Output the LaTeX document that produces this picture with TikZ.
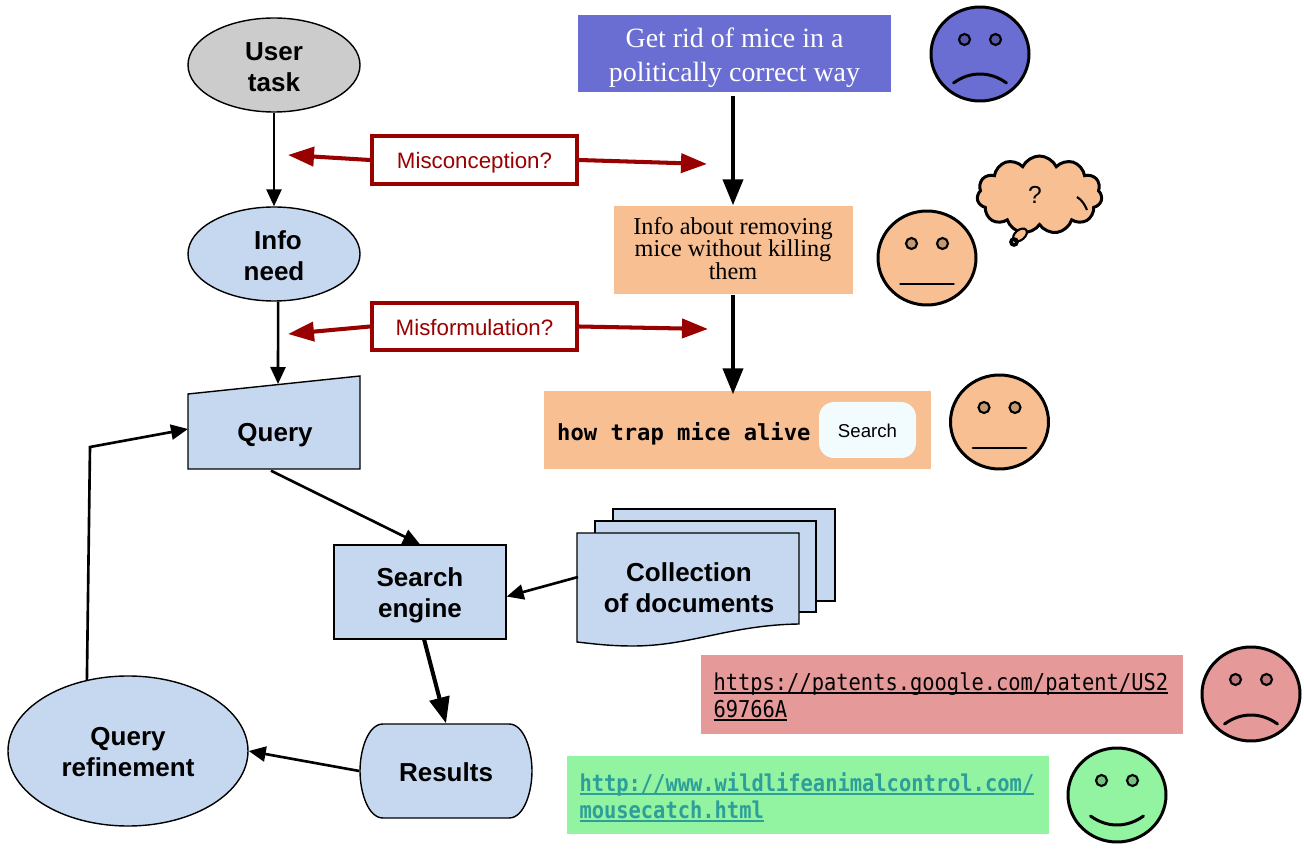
\documentclass[tikz,border=0pt]{standalone}
\usepackage{fontspec}
\setmainfont{Liberation Sans}
\newfontfamily\serifface{Liberation Serif}
\newfontfamily\monoface{DejaVu Sans Mono}
\newfontfamily\urlface[FakeStretch=0.88]{DejaVu Sans Mono}
\usepackage{xcolor}
\usetikzlibrary{arrows.meta, positioning, shapes.geometric, shapes.symbols, calc}
\definecolor{stepblue}{HTML}{C6D8F0}
\definecolor{darkred}{HTML}{990000}
\definecolor{goalblue}{HTML}{6A6DD2}
\definecolor{peach}{HTML}{F7BF92}
\definecolor{badpink}{HTML}{E69999}
\definecolor{goodgreen}{HTML}{92F3A0}
\definecolor{linkteal}{HTML}{2E9E9A}
\newcommand{\droptext}[1]{\rule{0pt}{#1}}
\newcommand{\urlline}[1]{\leavevmode\setbox0\hbox{#1}\rlap{\rule[-1pt]{\wd0}{0.55pt}}\box0}
\newcommand{\smiley}[4]{%
  \begin{scope}[shift={(#1)}]
    \draw[facepen, fill=#2] (0,0) ellipse (0.49 and 0.47);
    \draw[facepen, line width=0.6pt, fill=#2!80!black] (-0.155,0.145) circle (0.055);
    \draw[facepen, line width=0.6pt, fill=#2!80!black] ( 0.155,0.145) circle (0.055);
    \draw[facepen, line cap=round] (-0.265,#3) .. controls (-0.1,#3+#4) and (0.1,#3+#4) .. (0.265,#3);
  \end{scope}}

\begin{document}
\begin{tikzpicture}[
  every node/.style={font=\fontsize{7.4}{8.8}\selectfont\bfseries, align=center, inner sep=0pt},
  outline/.style  = {draw=black, fill=stepblue, line width=0.4pt},
  oval/.style     = {ellipse, outline},
  textbox/.style  = {rectangle, minimum width=17.2mm, minimum height=9.4mm},
  facepen/.style  = {draw=black, line width=0.85pt},
  note/.style     = {rectangle, draw=darkred, fill=white, line width=1.15pt, text=darkred, minimum width=20.5mm, minimum height=4.8mm, font=\fontsize{6.35}{8}\selectfont},
  goalbox/.style  = {rectangle, minimum height=7.7mm, font=\serifface\fontsize{7.94}{9.67}\selectfont},
  urlbox/.style   = {rectangle, minimum width=48.2mm, minimum height=7.85mm, text width=45.7mm, align=left},
  arrow/.style    = {-{Triangle[length=1.7mm, width=1.5mm]}, line width=0.75pt},
  bigarrow/.style = {-{Triangle[length=2.6mm, width=2mm]}, line width=1.15pt},
  redarrow/.style = {-{Triangle[length=2.6mm, width=1.9mm]}, line width=1.15pt, draw=darkred, color=darkred}
]
\useasboundingbox (0,0) rectangle (13.04,-8.49);

%% LEFT COLUMN: the search steps
\node[oval, fill=black!20, minimum width=17.2mm, minimum height=9.4mm] (user) at (2.74,-0.65) {\droptext{2.3mm}User\\task};
\node[oval, minimum width=17.2mm, minimum height=9.4mm] (need) at (2.74,-2.54) {\droptext{2.3mm}\hspace*{0.08cm}Info\\need};

\draw[outline] (1.88,-3.94) coordinate (qnw) -- (3.60,-3.76) -- (3.60,-4.69) -- (1.88,-4.69) -- cycle;
\node[textbox, minimum height=7.5mm] (query) at (2.75,-4.325) {\droptext{2.3mm}Query};
\coordinate (querytop) at (2.78,-3.84);
\coordinate (queryin)  at (1.88,-4.29);

\node[textbox, outline] (engine) at (4.20,-5.92) {\droptext{2.5mm}Search\\engine};

\draw[outline] (3.83,-7.24) .. controls (3.68,-7.24) and (3.60,-7.50) .. (3.60,-7.71)
  .. controls (3.60,-7.92) and (3.68,-8.18) .. (3.83,-8.18) -- (5.09,-8.18)
  .. controls (5.24,-8.18) and (5.32,-7.92) .. (5.32,-7.71)
  .. controls (5.32,-7.50) and (5.24,-7.24) .. (5.09,-7.24) -- cycle;
\node[textbox] (results) at (4.46,-7.71) {\droptext{2.1mm}Results};

\node[oval, minimum width=24mm, minimum height=15mm] (refine) at (1.28,-7.51) {\droptext{2.1mm}Query\\refinement};
\coordinate (bend) at (0.90,-4.47);

%% document stack
\draw[outline] (6.13,-5.09) rectangle (8.35,-6.01);
\draw[outline] (5.95,-5.21) rectangle (8.16,-6.12);
\draw[outline] (5.77,-5.33) -- (7.99,-5.33) -- (7.99,-6.24)
  .. controls (7.30,-6.25) and (6.90,-6.46) .. (6.33,-6.46)
  .. controls (6.10,-6.46) and (5.95,-6.44) .. (5.77,-6.42) -- cycle;
\node[textbox, minimum width=22mm] (docs) at (6.89,-5.88) {Collection\\of documents};
\coordinate (docsout) at (5.78,-5.77);

%% NOTES between the two columns
\node[note] (misconc) at (4.745,-1.60) {\droptext{2.2mm}Misconception?};
\node[note, minimum height=4.7mm] (misform) at (4.745,-3.265) {\droptext{1.8mm}Misformulation?};
\coordinate (misconcL) at (2.88,-1.55);
\coordinate (misconcR) at (7.07,-1.64);
\coordinate (misformL) at (2.88,-3.34);
\coordinate (misformR) at (7.08,-3.29);

%% RIGHT COLUMN: the example
\node[goalbox, fill=goalblue, text=white, minimum width=31.3mm] (goal) at (7.345,-0.54) {\droptext{2.7mm}Get rid of mice in a\\politically correct way};
\node[goalbox, fill=peach, minimum width=23.9mm, minimum height=8.8mm, font=\serifface\fontsize{6.9}{6.4}\selectfont] (belief) at (7.33,-2.50) {Info about removing\\mice without killing\\them\rule[-0.04cm]{0pt}{0pt}};
\node[goalbox, fill=peach, minimum width=38.7mm, minimum height=7.8mm] (searchbar) at (7.375,-4.30) {};
\node[anchor=west, font=\monoface\bfseries\fontsize{6.3}{8}\selectfont] (terms) at (5.565,-4.335) {how trap mice alive};
\node[rectangle, rounded corners=1.5mm, fill=cyan!5, minimum width=9.7mm, minimum height=5.6mm, font=\fontsize{5.3}{6}\selectfont\mdseries] (button) at (8.675,-4.30) {\droptext{1.54mm}Search};
\node[urlbox, fill=badpink, font=\urlface\fontsize{6.6}{7.7}\selectfont] (badurl) at (9.42,-6.945) {\droptext{2.3mm}\urlline{https://patents.google.com/patent/US2}\\\urlline{69766A}};
\node[urlbox, fill=goodgreen, text=linkteal, font=\urlface\bfseries\fontsize{6.6}{7.7}\selectfont] (goodurl) at (8.08,-7.95) {\droptext{2.3mm}\urlline{http://www.wildlifeanimalcontrol.com/}\\\urlline{mousecatch.html}};

%% faces
\smiley{9.80,-0.54}{goalblue}{-0.29}{0.12}
\smiley{9.27,-2.58}{peach}{-0.26}{0}
\smiley{9.995,-4.22}{peach}{-0.26}{0}
\smiley{12.51,-6.94}{badpink}{-0.30}{0.12}
\smiley{11.17,-7.95}{goodgreen}{-0.21}{-0.12}

%% thought bubble
\node[cloud, cloud puffs=11, cloud puff arc=130, aspect=1.6, facepen, fill=peach, minimum width=12.5mm, minimum height=7.8mm] (thought) at (10.395,-1.95) {};
\node[font=\fontsize{7}{8}\selectfont\mdseries] (qmark) at (10.35,-1.95) {?};
\draw[facepen, line width=0.6pt] (10.77,-1.97) .. controls (10.82,-2.00) and (10.85,-2.05) .. (10.87,-2.10);
\draw[facepen, line width=0.6pt, fill=peach, rotate around={40:(10.20,-2.35)}] (10.20,-2.35) ellipse (0.08 and 0.05);
\draw[facepen, line width=0.5pt] (10.14,-2.42) circle (0.04) (10.14,-2.42) circle (0.02);

%% Arrows
\draw[arrow] (user) -- (need);
\draw[arrow] (need.275) -- (querytop);
\draw[arrow] (query.264) -- (engine.north);
\draw[arrow] (docsout) -- (engine.-3);
\draw[bigarrow] (engine.275) -- (results.north);
\draw[arrow] (results.west) -- (refine.east);
\draw[arrow] (refine.120) -- (bend) -- (queryin);
\draw[redarrow] (misconc.west) -- (misconcL);
\draw[redarrow] (misconc.east) -- (misconcR);
\draw[redarrow] (misform.west) -- (misformL);
\draw[redarrow] (misform.east) -- (misformR);
\draw[bigarrow, shorten <=0.03cm] (goal.south -| belief.north) -- (belief.north);
\draw[bigarrow, shorten >=-0.04cm] (belief.south) -- (searchbar.north -| belief.south);
\end{tikzpicture}
\end{document}
